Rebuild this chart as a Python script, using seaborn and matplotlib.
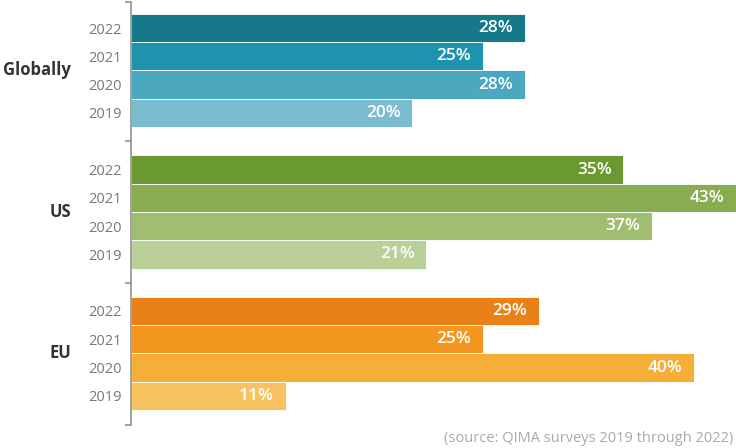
import pandas as pd
import numpy as np
import matplotlib.pyplot as plt
import seaborn as sns

groups = ['Globally', 'US', 'EU']
years = ['2022', '2021', '2020', '2019']
globally = [28, 25, 28, 20]
us = [35, 43, 37, 21]
eu = [29, 25, 40, 11]
colors = {
    'Globally': ['#16798a', '#1e93ad', '#4ba8bf', '#7bbdd0'],
    'US': ['#6a992f', '#88ad50', '#a1bd72', '#b9d097'],
    'EU': ['#ea8118', '#f2961f', '#f5ae37', '#f7c25f'],
}

rows = []
for g, (name, vals) in enumerate(zip(groups, [globally, us, eu])):
    for i, (yr, v) in enumerate(zip(years, vals)):
        rows.append({'group': name, 'year': yr, 'value': v,
                     'pos': g * 5 + i, 'key': name + yr,
                     'color': colors[name][i]})
df = pd.DataFrame(rows)
palette = dict(zip(df['key'], df['color']))

sns.set_style('white')
plt.rcParams['font.family'] = ['Open Sans', 'DejaVu Sans']

fig = plt.figure(figsize=(7.36, 4.48), dpi=100)
ax = fig.add_axes([131 / 736, 23 / 448, 605 / 736, 423 / 448])

sns.barplot(data=df, x='value', y='pos', hue='key', palette=palette,
            orient='h', native_scale=True, dodge=False, width=1, saturation=1,
            legend=False, edgecolor='white', linewidth=0.6, ax=ax)

ax.set_xlim(0, 43)
ax.set_ylim(14.03, -0.92)

for _, r in df.iterrows():
    ax.annotate(f"{r['value']}%", xy=(r['value'], r['pos']), xytext=(-8.5, 0),
                textcoords='offset points', ha='right', va='center',
                color='white', fontsize=12.5, fontweight='semibold')

ax.set_yticks(df['pos'])
ax.set_yticklabels(df['year'], fontsize=10.5, color='#777777')
ax.tick_params(axis='y', which='major', left=False, length=0, pad=7)
ax.set_yticks([-0.92, 4, 9, 14.03], minor=True)
ax.tick_params(axis='y', which='minor', left=True, length=4.5, width=1.1,
               color='#888888', direction='out')
ax.set_xticks([])
ax.set_xlabel('')
ax.set_ylabel('')

for g, name in enumerate(groups):
    ax.annotate(name, xy=(0, g * 5 + 1.5), xytext=(-43, 0), textcoords='offset points',
                ha='right', va='center', fontsize=12, fontweight='bold', color='#333333')

for s in ['top', 'right', 'bottom']:
    ax.spines[s].set_visible(False)
ax.spines['left'].set_color('#888888')
ax.spines['left'].set_linewidth(1.1)

fig.text(733 / 736, 1 - 438 / 448, '(source: QIMA surveys 2019 through 2022)',
         ha='right', va='center', fontsize=10.5, color='#aaaaaa')

fig.savefig('out.png', dpi=100, facecolor='white')
